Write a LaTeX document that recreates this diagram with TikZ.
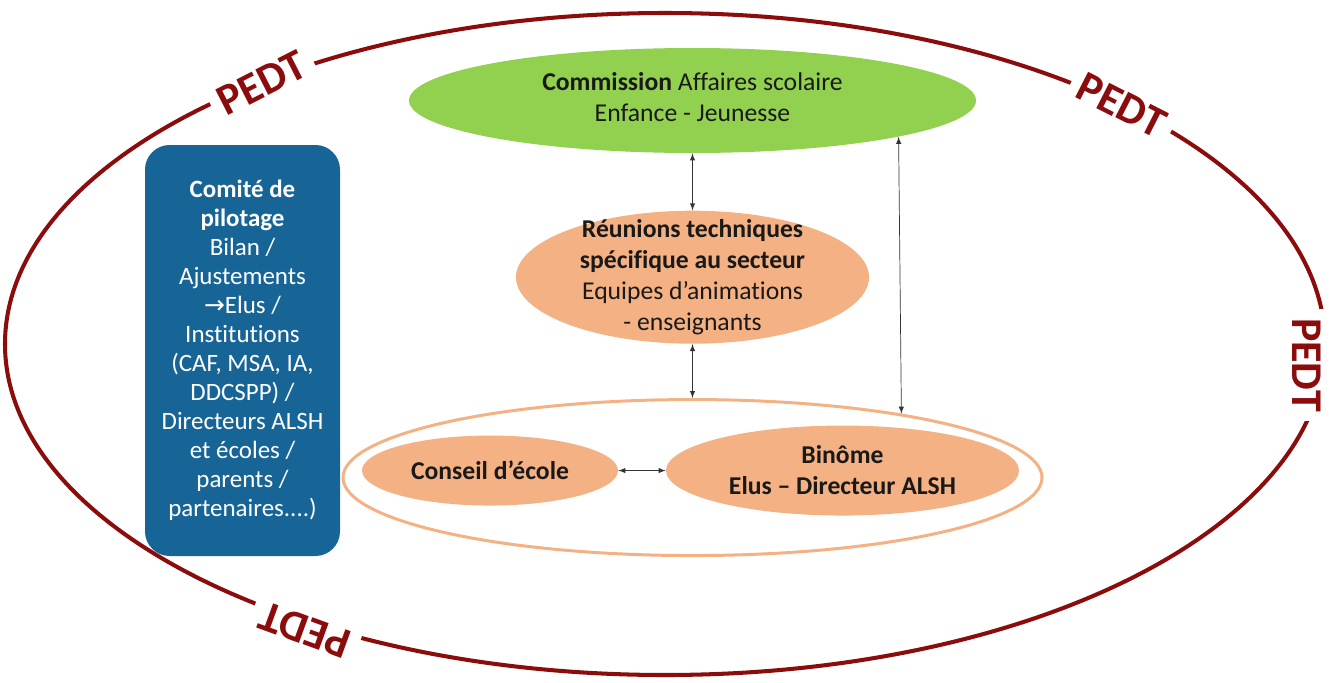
\documentclass[tikz,border=0pt]{standalone}
\usepackage{fontspec}
\setmainfont{Carlito}[Ligatures=NoCommon]
\newfontfamily\flechefont{DejaVu Sans}
\usepackage{tikz}
\usetikzlibrary{arrows,shapes,positioning}

\definecolor{vert}{RGB}{146,208,80}
\definecolor{saumon}{RGB}{244,177,131}
\definecolor{bleu}{RGB}{23,101,151}
\definecolor{bordeaux}{RGB}{139,12,12}

\begin{document}
\begin{tikzpicture}[
			bulle/.style = {ellipse, inner sep=0pt},
			texte/.style = {align=center, inner sep=0pt, text=black!90, font=\fontsize{14.6}{17.6}\selectfont},
			commission/.style = {bulle, fill=vert, minimum width=11.34cm, minimum height=2.1cm},
			reunion/.style = {bulle, fill=saumon, minimum width=7.06cm, minimum height=2.66cm},
			anneau/.style = {bulle, draw=saumon, line width=1.7pt, fill=white, minimum width=13.98cm, minimum height=3.12cm},
			conseil/.style = {bulle, fill=saumon, minimum width=5.12cm, minimum height=1.4cm},
			binome/.style = {bulle, fill=saumon, minimum width=7.06cm, minimum height=1.8cm},
			comite/.style = {fill=bleu, rounded corners=14pt, text=white, align=center, minimum width=3.9cm, minimum height=8.22cm, font=\fontsize{14.2}{16.5}\selectfont},
			pedt/.style = {fill=white, text=bordeaux, inner sep=5pt, font=\fontsize{25}{30}\selectfont\bfseries},
			cadre/.style = {draw=bordeaux, line width=2.3pt},
			lien/.style = {<->, draw=black!80, thin},
			>=latex]
			
			\useasboundingbox (0,0) rectangle (26.62,13.64);
			
			% the big PEDT ellipse and its four labels
			\draw[cadre] (13.30,6.76) ellipse [x radius=13.20, y radius=6.62];
			\node[pedt, rotate=27] (p1) at (5.24,11.98) {PEDT};
			\node[pedt, rotate=-27] (p2) at (22.44,11.54) {PEDT};
			\node[pedt, rotate=-90] (p3) at (26.14,6.34) {PEDT};
			\node[pedt, rotate=160] (p4) at (6.10,1.04) {PEDT};
			
			% comite de pilotage, on the left
			\node[comite] (cp) at (4.85,6.63) {\textbf{Comité de}\\\textbf{pilotage}\\Bilan /\\Ajustements\\{\flechefont →}Elus /\\Institutions\\(CAF, MSA, IA,\\DDCSPP) /\\Directeurs ALSH\\et écoles /\\parents /\\partenaires....)};
			
			% central column, relatively positioned
			\node[commission] (com) at (13.85,11.63) {};
			\node[reunion, below=1.14cm of com] (reu) {};
			\node[anneau, below=1.08cm of reu] (ann) {};
			\node[conseil, xshift=-4.05cm, yshift=0.14cm] (ce) at (ann) {};
			\node[binome, xshift=3.0cm, yshift=0.14cm] (bi) at (ann) {};
			
			% texts of the ellipses
			\node[texte, yshift=0.06cm] (com-t) at (com) {\textbf{Commission} Affaires scolaire\\Enfance - Jeunesse};
			\node[texte] (reu-t) at (reu) {\textbf{Réunions techniques}\\\textbf{spécifique au secteur}\\Equipes d’animations\\- enseignants};
			\node[texte] (ce-t) at (ce) {\textbf{Conseil d’école}};
			\node[texte] (bi-t) at (bi) {\textbf{Binôme}\\\textbf{Elus – Directeur ALSH}};
			
			% double arrows
			\draw[lien] (com) -- (reu);
			\draw[lien] (reu) -- (ann);
			\draw[lien] (com.-10.6) -- (ann.17.8);
			\draw[lien] (ce) -- (bi);
		\end{tikzpicture}
\end{document}
